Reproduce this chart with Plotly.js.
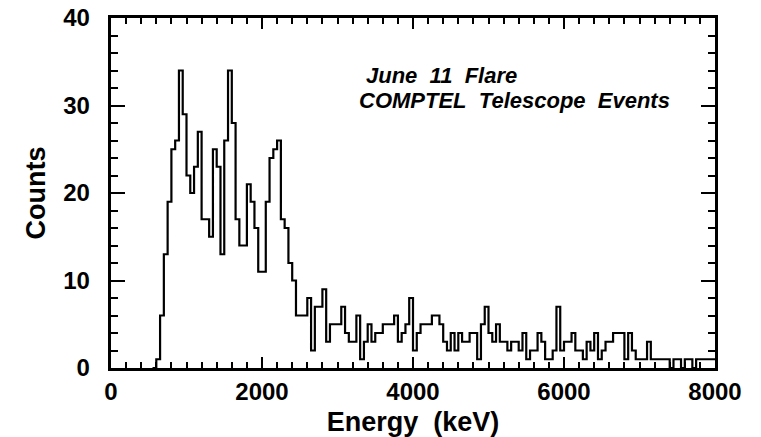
<!DOCTYPE html>
<html>
<head>
<meta charset="utf-8">
<script src="https://cdn.plot.ly/plotly-3.0.1.min.js"></script>
<style>
  html, body { margin: 0; padding: 0; background: #fff; }
  #chart { width: 761px; height: 437px; }
</style>
</head>
<body>
<div id="chart"></div>
<script>
// Bin edges (keV), 50 keV bins
const energyEdges = [
  550, 600, 650, 700, 750, 800, 850, 900, 950, 1000,
  1050, 1100, 1150, 1200, 1250, 1300, 1350, 1400, 1450, 1500,
  1550, 1600, 1650, 1700, 1750, 1800, 1850, 1900, 1950, 2000,
  2050, 2100, 2150, 2200, 2250, 2300, 2350, 2400, 2450, 2500,
  2550, 2600, 2650, 2700, 2750, 2800, 2850, 2900, 2950, 3000,
  3050, 3100, 3150, 3200, 3250, 3300, 3350, 3400, 3450, 3500,
  3550, 3600, 3650, 3700, 3750, 3800, 3850, 3900, 3950, 4000,
  4050, 4100, 4150, 4200, 4250, 4300, 4350, 4400, 4450, 4500,
  4550, 4600, 4650, 4700, 4750, 4800, 4850, 4900, 4950, 5000,
  5050, 5100, 5150, 5200, 5250, 5300, 5350, 5400, 5450, 5500,
  5550, 5600, 5650, 5700, 5750, 5800, 5850, 5900, 5950, 6000,
  6050, 6100, 6150, 6200, 6250, 6300, 6350, 6400, 6450, 6500,
  6550, 6600, 6650, 6700, 6750, 6800, 6850, 6900, 6950, 7000,
  7050, 7100, 7150, 7200, 7250, 7300, 7350, 7400, 7450, 7500,
  7550, 7600, 7650, 7700, 7750, 7800, 7850, 7900, 7950, 8000
];
// Counts per bin (one fewer than edges)
const counts = [
  0, 1, 6, 13, 19, 25, 26, 34, 29, 22,
  20, 23, 27, 17, 17, 15, 25, 23, 13, 26,
  34, 28, 17, 14, 14, 21, 19, 16, 11, 11,
  19, 24, 25, 26, 17, 16, 12, 10, 6, 6,
  6, 8, 2, 7, 7, 9, 3, 5, 5, 5,
  7, 4, 3, 3, 6, 1, 3, 5, 3, 4,
  4, 5, 5, 5, 6, 3, 4, 5, 8, 2,
  4, 5, 5, 5, 6, 6, 5, 3, 2, 4,
  2, 4, 3, 3, 4, 4, 1, 5, 7, 4,
  3, 5, 3, 3, 2, 3, 3, 2, 4, 1,
  2, 2, 4, 3, 1, 1, 2, 7, 2, 3,
  3, 4, 2, 2, 1, 3, 2, 4, 1, 2,
  3, 3, 4, 4, 4, 1, 4, 2, 1, 1,
  1, 3, 1, 1, 1, 1, 1, 0, 1, 1,
  0, 1, 1, 0, 1, 1, 1, 1, 1
];
const xRange = [0, 8000];
const yRange = [0, 40];
const titleLine1 = "June\u00a0 11\u00a0 Flare";
const titleLine2 = "COMPTEL\u00a0 Telescope\u00a0 Events";

const stepY = counts.concat([counts[counts.length - 1]]);

const FONT = "Liberation Sans, Arial, Helvetica, sans-serif";

const trace = {
  x: energyEdges,
  y: stepY,
  mode: "lines",
  line: { shape: "hv", color: "#000", width: 2.2 }
};

const layout = {
  width: 761,
  height: 437,
  margin: { l: 111, r: 46, t: 18, b: 69 },
  xaxis: {
    range: xRange,
    dtick: 2000,
    ticks: "inside",
    ticklen: 11,
    tickwidth: 2,
    tickcolor: "#000",
    showline: true,
    linewidth: 3,
    linecolor: "#000",
    mirror: "ticks",
    showgrid: false,
    zeroline: false,
    tickfont: { family: FONT, size: 24, weight: "bold", color: "#000" },
    minor: { dtick: 200, ticks: "inside", ticklen: 6, tickwidth: 2, tickcolor: "#000" },
    title: { text: "Energy\u00a0 (keV)", font: { family: FONT, size: 27, weight: "bold", color: "#000" } }
  },
  yaxis: {
    range: yRange,
    dtick: 10,
    ticks: "inside",
    ticklen: 14,
    tickwidth: 2,
    tickcolor: "#000",
    showline: true,
    linewidth: 3,
    linecolor: "#000",
    mirror: "ticks",
    showgrid: false,
    zeroline: false,
    ticksuffix: "\u00a0\u00a0",
    tickfont: { family: FONT, size: 24, weight: "bold", color: "#000" },
    minor: { dtick: 2, ticks: "inside", ticklen: 7, tickwidth: 2, tickcolor: "#000" },
    title: { text: "Counts", font: { family: FONT, size: 27, weight: "bold", color: "#000" } }
  },
  annotations: [
    {
      xref: "paper", yref: "paper", x: 0.419, y: 0.837,
      xanchor: "left", yanchor: "middle", showarrow: false,
      text: titleLine1,
      font: { family: FONT, size: 22, weight: "bold", style: "italic", color: "#000" }
    },
    {
      xref: "paper", yref: "paper", x: 0.407, y: 0.763,
      xanchor: "left", yanchor: "middle", showarrow: false,
      text: titleLine2,
      font: { family: FONT, size: 22, weight: "bold", style: "italic", color: "#000" }
    }
  ]
};

Plotly.newPlot("chart", [trace], layout, { staticPlot: true });
</script>
</body>
</html>
